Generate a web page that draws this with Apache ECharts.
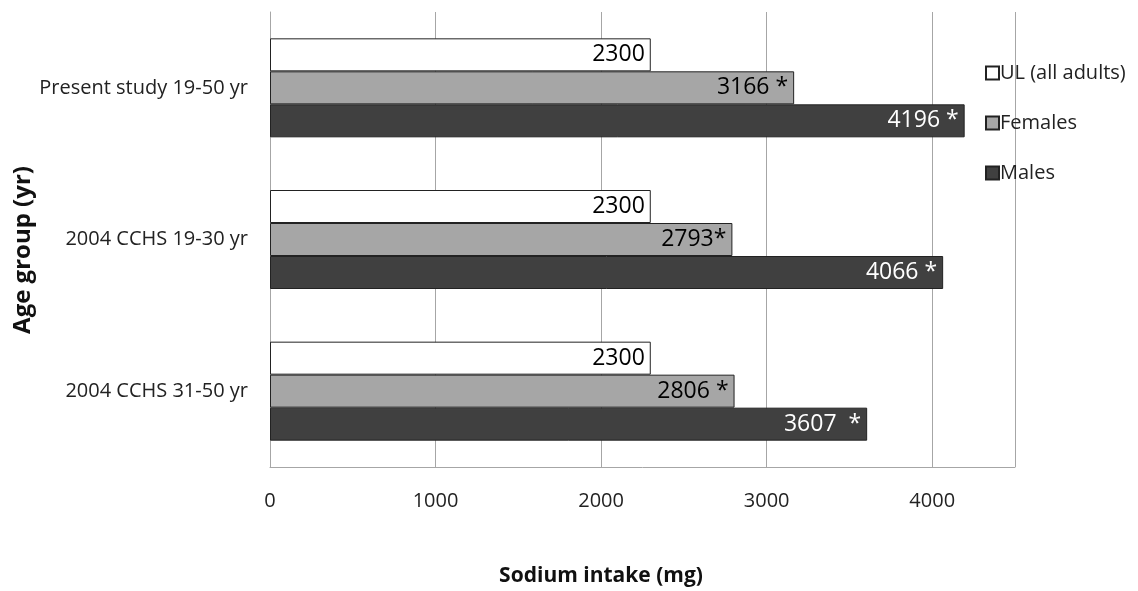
<!DOCTYPE html>
<html><head><meta charset="utf-8">
<script src="https://cdn.jsdelivr.net/npm/echarts@6/dist/echarts.min.js"></script>
<style>html,body{margin:0;padding:0;background:#fff}#c{width:1138px;height:591px}</style>
</head><body><div id="c"></div>
<script>
var categories = ["Present study 19-50 yr", "2004 CCHS 19-30 yr", "2004 CCHS 31-50 yr"];
var seriesNames = ["UL (all adults)", "Females", "Males"];
var ulValues = [2300, 2300, 2300];
var femaleValues = [3166, 2793, 2806];
var maleValues = [4196, 4066, 3607];
var ulLabels = ["2300", "2300", "2300"];
var femaleLabels = ["3166 *", "2793*", "2806 *"];
var maleLabels = ["4196 *", "4066 *", "3607  *"];
var xTicks = [0, 1000, 2000, 3000, 4000];

var font = "Open Sans";
function mk(name, vals, labels, fill, txt) {
  return {
    name: name, type: 'bar', data: vals, barWidth: 33, barGap: '0%',
    itemStyle: { color: fill, borderColor: '#222', borderWidth: 1 },
    label: { show: true, position: 'insideRight', distance: 6, color: txt,
      fontFamily: font, fontSize: 23,
      formatter: function (p) { return labels[p.dataIndex]; } }
  };
}
var chart = echarts.init(document.getElementById('c'));
chart.setOption({
  animation: false,
  grid: { left: 270, right: 123, top: 12, bottom: 124, containLabel: false },
  xAxis: {
    type: 'value', min: 0, max: 4500, interval: 1000,
    axisLine: { show: true, lineStyle: { color: '#a6a6a6' } },
    axisTick: { show: false },
    splitLine: { show: true, lineStyle: { color: '#a6a6a6', width: 1 } },
    axisLabel: { margin: 24, color: '#222', fontFamily: font, fontSize: 20,
      formatter: function (v) { return xTicks.indexOf(v) >= 0 ? String(v) : ''; } }
  },
  yAxis: {
    type: 'category', data: categories, inverse: true,
    axisLine: { show: true, lineStyle: { color: '#a6a6a6' } },
    axisTick: { show: false },
    axisLabel: { margin: 22, color: '#222', fontFamily: font, fontSize: 20 }
  },
  legend: {
    orient: 'vertical', left: 980, top: 56, itemWidth: 13, itemHeight: 13, itemGap: 26,
    icon: 'rect',
    data: seriesNames, selectedMode: false,
    textStyle: { fontFamily: font, fontSize: 20, color: '#222', lineHeight: 24, padding: [0, 0, 0, -4] }
  },
  graphic: [
    { type: 'text', x: 601, y: 576, style: { text: 'Sodium intake (mg)', fontFamily: font, fontSize: 21, fontWeight: 'bold', fill: '#111', align: 'center', verticalAlign: 'middle' } },
    { type: 'text', x: 23, y: 250, rotation: Math.PI / 2, style: { text: 'Age group (yr)', fontFamily: font, fontSize: 24, fontWeight: 'bold', fill: '#111', align: 'center', verticalAlign: 'middle' } }
  ],
  series: [
    mk(seriesNames[0], ulValues, ulLabels, '#ffffff', '#000'),
    mk(seriesNames[1], femaleValues, femaleLabels, '#a6a6a6', '#000'),
    mk(seriesNames[2], maleValues, maleLabels, '#404040', '#fff')
  ]
});
</script></body></html>
